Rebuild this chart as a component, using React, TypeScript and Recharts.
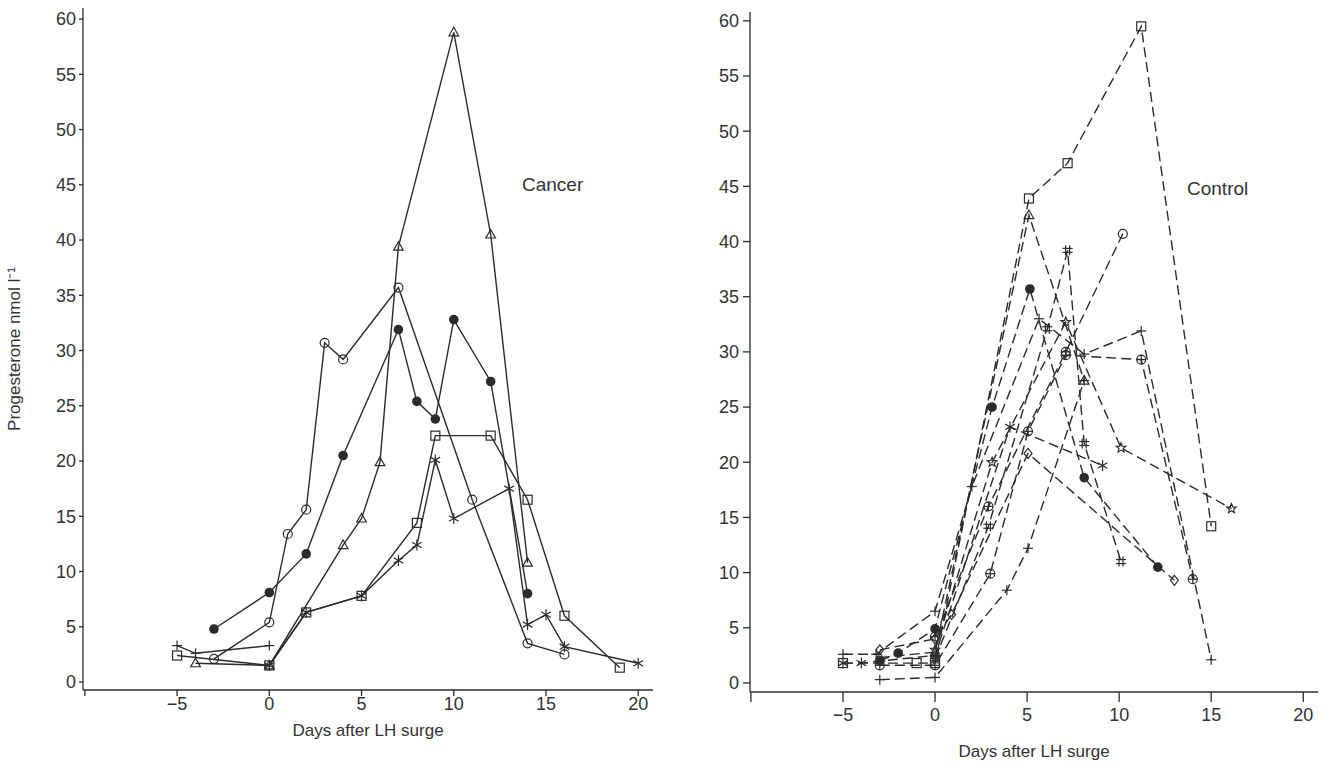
import { Label, Line, LineChart, XAxis, YAxis } from "recharts";

// Progesterone after LH surge: Cancer (solid) vs Control (dashed) panels.
const FONT = "'Liberation Sans', Arial, Helvetica, sans-serif";
const INK = "#2b2b2b";
const TEXT = "#333333";

const yTicks = [0, 5, 10, 15, 20, 25, 30, 35, 40, 45, 50, 55, 60];
const xTicks = [-10, -5, 0, 5, 10, 15, 20];

// Cancer panel: [day, nmol/l]
const cancerOpen = [[-3, 2.1], [0, 5.4], [1, 13.4], [2, 15.6], [3, 30.7], [4, 29.2], [7, 35.7], [11, 16.5], [14, 3.5], [16, 2.5]];
const cancerFilled = [[-3, 4.8], [0, 8.1], [2, 11.6], [4, 20.5], [7, 31.9], [8, 25.4], [9, 23.8], [10, 32.8], [12, 27.2], [14, 8.0]];
const cancerTriangle = [[-4, 1.7], [0, 1.5], [4, 12.4], [5, 14.8], [6, 19.9], [7, 39.4], [10, 58.8], [12, 40.5], [14, 10.8]];
const cancerSquare = [[-5, 2.4], [0, 1.5], [2, 6.3], [5, 7.8], [8, 14.4], [9, 22.3], [12, 22.3], [14, 16.5], [16, 6.0], [19, 1.3]];
const cancerPlus = [[-5, 3.3], [-4, 2.6], [0, 3.3]];
const cancerStar = [[0, 1.5], [2, 6.3], [5, 7.8], [7, 11.0], [8, 12.4], [9, 20.1], [10, 14.8], [13, 17.5], [14, 5.2], [15, 6.1], [16, 3.2], [20, 1.7]];

// Control panel
const ctrlSquare = [[-5, 1.8], [-1, 1.8], [0, 1.8], [5.1, 43.9], [7.2, 47.1], [11.2, 59.5], [15, 14.2]];
const ctrlTriangle = [[-3, 2.3], [0, 2.8], [5.1, 42.4], [8.1, 27.4]];
const ctrlFilled = [[-3, 2.0], [-2, 2.7], [0, 4.9], [3.1, 25.0], [5.15, 35.7], [8.1, 18.6], [12.1, 10.5]];
const ctrlOplus = [[-3, 1.6], [0, 1.6], [3, 9.9], [5.05, 22.8], [7.1, 29.7], [11.2, 29.3], [14, 9.4]];
const ctrlDiamond = [[-3, 3.0], [0, 4.0], [0.9, 6.2], [5.05, 20.8], [13, 9.3]];
const ctrlPlusLong = [[-5, 2.6], [-3.2, 2.6], [0, 6.5], [2, 17.8], [5.65, 33.0], [8.1, 29.8], [11.2, 31.9], [15, 2.1]];
const ctrlCircle = [[0, 4.2], [2.9, 16.0], [7.1, 30.0], [10.2, 40.7]];
const ctrlHash = [[0, 2.2], [2.9, 14.2], [6.1, 32.1], [7.2, 39.2], [8.1, 21.7], [10.1, 11.0]];
const ctrlAsterisk = [[-5, 1.8], [-4, 1.8], [0, 2.5], [4.07, 23.2], [9.1, 19.7]];
const ctrlStar = [[0, 3.0], [3.1, 20.0], [7.1, 32.7], [10.1, 21.3], [16.1, 15.8]];
const ctrlPlusLow = [[-3, 0.3], [0, 0.5], [3.9, 8.4], [5.05, 12.2], [8.1, 27.4]];

type Series = { name: string; data: number[][]; marker: string; endMarker?: string };

const cancerSeries: Series[] = [
  { name: "c-open", data: cancerOpen, marker: "circle" },
  { name: "c-filled", data: cancerFilled, marker: "filled" },
  { name: "c-tri", data: cancerTriangle, marker: "triangle" },
  { name: "c-sq", data: cancerSquare, marker: "square" },
  { name: "c-plus", data: cancerPlus, marker: "plus" },
  { name: "c-star", data: cancerStar, marker: "asterisk" },
];

const controlSeries: Series[] = [
  { name: "k-sq", data: ctrlSquare, marker: "square" },
  { name: "k-tri", data: ctrlTriangle, marker: "triangle" },
  { name: "k-filled", data: ctrlFilled, marker: "filled" },
  { name: "k-oplus", data: ctrlOplus, marker: "oplus" },
  { name: "k-dia", data: ctrlDiamond, marker: "diamond" },
  { name: "k-plus", data: ctrlPlusLong, marker: "plus" },
  { name: "k-circ", data: ctrlCircle, marker: "oplus", endMarker: "circle" },
  { name: "k-hash", data: ctrlHash, marker: "hash" },
  { name: "k-ast", data: ctrlAsterisk, marker: "asterisk" },
  { name: "k-star", data: ctrlStar, marker: "star" },
  { name: "k-plow", data: ctrlPlusLow, marker: "plus" },
];

const toPts = (a: number[][]) => a.map(([x, y]) => ({ x, y }));

function Marker({ cx, cy, shape }: { cx: number; cy: number; shape: string }) {
  if (cx == null || cy == null) return <g />;
  const s = { stroke: INK, strokeWidth: 1.2, fill: "none" };
  switch (shape) {
    case "circle":
      return <circle cx={cx} cy={cy} r={4.5} {...s} />;
    case "filled":
      return <circle cx={cx} cy={cy} r={4.8} fill={INK} />;
    case "square":
      return <rect x={cx - 4.5} y={cy - 4.5} width={9} height={9} {...s} />;
    case "triangle":
      return <polygon points={`${cx},${cy - 5} ${cx - 4.8},${cy + 3.5} ${cx + 4.8},${cy + 3.5}`} {...s} />;
    case "diamond":
      return <polygon points={`${cx},${cy - 5} ${cx + 4},${cy} ${cx},${cy + 5} ${cx - 4},${cy}`} {...s} />;
    case "oplus":
      return (
        <g {...s}>
          <circle cx={cx} cy={cy} r={4.5} />
          <line x1={cx - 4.5} y1={cy} x2={cx + 4.5} y2={cy} />
          <line x1={cx} y1={cy - 4.5} x2={cx} y2={cy + 4.5} />
        </g>
      );
    case "plus":
      return (
        <g {...s}>
          <line x1={cx - 5} y1={cy} x2={cx + 5} y2={cy} />
          <line x1={cx} y1={cy - 5} x2={cx} y2={cy + 5} />
        </g>
      );
    case "hash":
      return (
        <g {...s}>
          <line x1={cx - 2} y1={cy - 5} x2={cx - 2} y2={cy + 5} />
          <line x1={cx + 2} y1={cy - 5} x2={cx + 2} y2={cy + 5} />
          <line x1={cx - 5} y1={cy - 2} x2={cx + 5} y2={cy - 2} />
          <line x1={cx - 5} y1={cy + 2} x2={cx + 5} y2={cy + 2} />
        </g>
      );
    case "star": {
      const pts: string[] = [];
      for (let i = 0; i < 10; i++) {
        const r = i % 2 === 0 ? 5 : 2.2;
        const a = -Math.PI / 2 + (i * Math.PI) / 5;
        pts.push(`${cx + r * Math.cos(a)},${cy + r * Math.sin(a)}`);
      }
      return <polygon points={pts.join(" ")} {...s} />;
    }
    default:
      // asterisk
      return (
        <g {...s}>
          <line x1={cx} y1={cy - 5.5} x2={cx} y2={cy + 5.5} />
          <line x1={cx - 4.8} y1={cy - 2.8} x2={cx + 4.8} y2={cy + 2.8} />
          <line x1={cx - 4.8} y1={cy + 2.8} x2={cx + 4.8} y2={cy - 2.8} />
        </g>
      );
  }
}

const tickStyle = { fontSize: 18, fill: TEXT, fontFamily: FONT };
const axisStyle = { stroke: INK, strokeWidth: 1.3 };
const xFmt = (v: number) => (v === -10 ? "" : v < 0 ? `\u2212${-v}` : `${v}`);

type PanelProps = {
  series: Series[];
  width: number;
  yAxisWidth: number;
  margin: { top: number; right: number; bottom: number; left: number };
  xAxisHeight: number;
  xDomain: [number, number];
  yDomain: [number, number];
  dashed: boolean;
  xTickSize: number;
  xTickMargin: number;
  yTickSize: number;
  yTickMargin: number;
  xLabelOffset: number;
  yLabel?: string;
};

function Panel(p: PanelProps) {
  return (
    <LineChart width={p.width} height={763} margin={p.margin}>
      <XAxis
        type="number"
        dataKey="x"
        domain={p.xDomain}
        ticks={xTicks}
        tickFormatter={xFmt}
        allowDataOverflow
        height={p.xAxisHeight}
        axisLine={axisStyle}
        tickLine={axisStyle}
        tickSize={p.xTickSize}
        tickMargin={p.xTickMargin}
        tick={tickStyle}
      >
        <Label
          value="Days after LH surge"
          position="insideBottom"
          offset={p.xLabelOffset}
          style={{ fontSize: 17, fill: TEXT, fontFamily: FONT }}
        />
      </XAxis>
      <YAxis
        type="number"
        domain={p.yDomain}
        ticks={yTicks}
        allowDataOverflow
        width={p.yAxisWidth}
        axisLine={axisStyle}
        tickLine={axisStyle}
        tickSize={p.yTickSize}
        tickMargin={p.yTickMargin}
        tick={tickStyle}
      >
        {p.yLabel ? (
          <Label
            value={p.yLabel}
            angle={-90}
            position="insideLeft"
            offset={14}
            style={{ fontSize: 17, fill: TEXT, fontFamily: FONT, textAnchor: "middle" }}
          />
        ) : null}
      </YAxis>
      {p.series.map((s) => (
        <Line
          key={s.name}
          data={toPts(s.data)}
          dataKey="y"
          type="linear"
          stroke={INK}
          strokeWidth={1.4}
          strokeDasharray={p.dashed ? "10 5" : undefined}
          isAnimationActive={false}
          dot={(d: any) => (
            <Marker
              key={`${s.name}-${d.index}`}
              cx={d.cx}
              cy={d.cy}
              shape={s.endMarker && d.index === s.data.length - 1 ? s.endMarker : s.marker}
            />
          )}
          activeDot={false}
        />
      ))}
    </LineChart>
  );
}

export default function App() {
  return (
    <div
      style={{
        position: "absolute",
        left: 0,
        top: 0,
        width: 1332,
        height: 763,
        background: "#fff",
        fontFamily: FONT,
      }}
    >
      <div style={{ position: "absolute", left: 0, top: 0 }}>
        <Panel
          series={cancerSeries}
          width={660}
          yAxisWidth={83}
          margin={{ top: 8, right: 7, bottom: 0, left: 0 }}
          xAxisHeight={73}
          xDomain={[-10.1, 20.8]}
          yDomain={[-0.72, 61]}
          dashed={false}
          xTickSize={6}
          xTickMargin={1}
          yTickSize={4}
          yTickMargin={3}
          xLabelOffset={27}
          yLabel="Progesterone nmol l⁻¹"
        />
      </div>
      <div style={{ position: "absolute", left: 660, top: 0 }}>
        <Panel
          series={controlSeries}
          width={672}
          yAxisWidth={90}
          margin={{ top: 12, right: 14, bottom: 0, left: 0 }}
          xAxisHeight={71}
          xDomain={[-10.05, 20.8]}
          yDomain={[-0.82, 60.8]}
          dashed
          xTickSize={10}
          xTickMargin={6}
          yTickSize={7}
          yTickMargin={4}
          xLabelOffset={6}
        />
      </div>
      <div style={{ position: "absolute", left: 522, top: 174, fontSize: 19, color: TEXT }}>Cancer</div>
      <div style={{ position: "absolute", left: 1187, top: 178, fontSize: 19, color: TEXT }}>Control</div>
    </div>
  );
}
